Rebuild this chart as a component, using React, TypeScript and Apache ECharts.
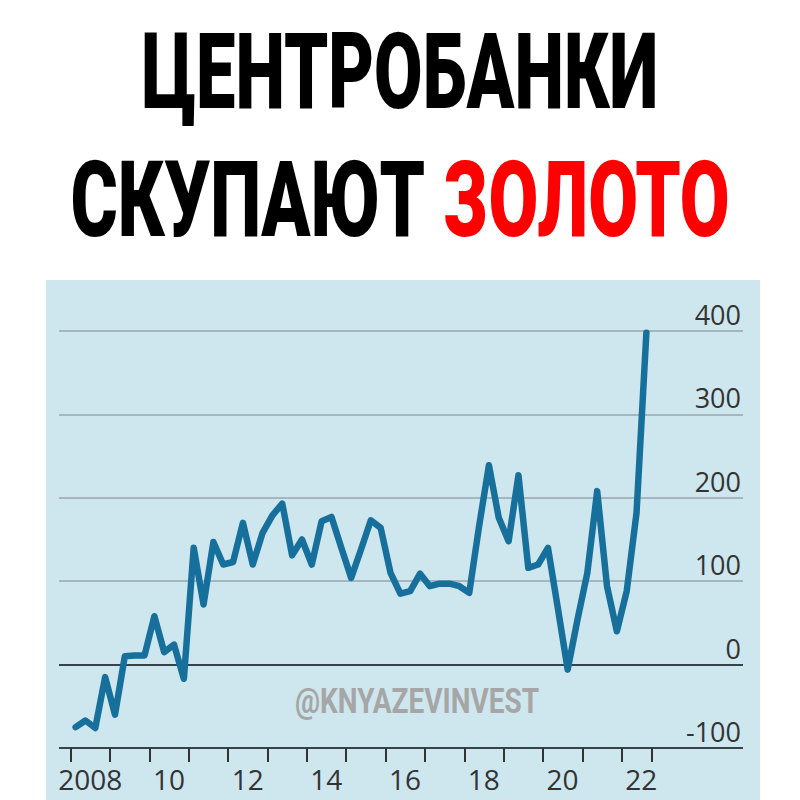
import React, { useEffect, useRef } from "react";
import * as echarts from "echarts";

// Central bank net gold purchases, tonnes, quarterly 2008 Q1 – 2022 Q3
const START_YEAR = 2008;
const goldPurchases = [
  -75, -67, -76, -15, // 2008
  -60, 10, 11, 11, // 2009
  58, 15, 24, -17, // 2010
  140, 72, 147, 120, // 2011
  123, 170, 120, 158, // 2012
  179, 193, 131, 150, // 2013
  120, 172, 177, 140, // 2014
  104, 138, 173, 164, // 2015
  110, 85, 88, 109, // 2016
  94, 97, 97, 94, // 2017
  86, 166, 239, 176, // 2018
  148, 227, 116, 120, // 2019
  140, 68, -6, 54, // 2020
  110, 208, 94, 40, // 2021
  88, 182, 398, // 2022
];
const yMin = -100;
const yMax = 400;
const yStep = 100;
const xMin = 2008;
const xMax = 2022.75;

const titleLine1 = "ЦЕНТРОБАНКИ";
const titleLine2a = "СКУПАЮТ";
const titleLine2b = "ЗОЛОТО";
const watermark = "@KNYAZEVINVEST";

export default function App() {
  const ref = useRef<HTMLDivElement>(null);
  useEffect(() => {
    const chart = echarts.init(ref.current!, null, { renderer: "svg" });
    const data = goldPurchases.map((v, i) => [START_YEAR + (i + 0.5) / 4, v]);
    const titleFont = { fontSize: 105, fontWeight: 900, fontFamily: "Roboto" };
    chart.setOption({
      animation: false,
      backgroundColor: "#ffffff",
      graphic: [
        {
          type: "rect",
          z: -10,
          silent: true,
          shape: { x: 46, y: 280, width: 714, height: 520 },
          style: { fill: "#cee6ee" },
        },
        {
          type: "text",
          x: 400,
          y: 72,
          scaleX: 0.67,
          z: 100,
          style: { text: titleLine1, ...titleFont, fill: "#000", align: "center", verticalAlign: "middle" },
        },
        {
          type: "text",
          x: 400,
          y: 200,
          scaleX: 0.688,
          z: 100,
          style: {
            text: `{a|${titleLine2a}} {b|${titleLine2b}}`,
            ...titleFont,
            fill: "#000",
            align: "center",
            verticalAlign: "middle",
            rich: {
              a: { ...titleFont, fill: "#000" },
              b: { ...titleFont, fill: "#ff0000" },
            },
          },
        },
        {
          type: "text",
          x: 417,
          y: 701,
          scaleX: 0.8,
          z: 100,
          style: {
            text: watermark,
            fontSize: 35,
            fontWeight: "bold",
            fontFamily: "Roboto",
            fill: "#a6a6a6",
            align: "center",
            verticalAlign: "middle",
          },
        },
      ],
      grid: [
        { left: 59, right: 57, top: 331, bottom: 52, containLabel: false },
        { left: 70.7, right: 148.7, top: 331, bottom: 52, containLabel: false },
      ],
      xAxis: [
        { type: "value", gridIndex: 0, min: 0, max: 1, show: false },
        {
          type: "value",
          gridIndex: 1,
          min: xMin,
          max: xMax,
          interval: 1,
          position: "bottom",
          axisLine: { show: false, onZero: false },
          splitLine: { show: false },
          axisTick: { show: true, length: 14, lineStyle: { color: "#333", width: 2 } },
          axisLabel: {
            show: true,
            margin: 20,
            fontSize: 28,
            lineHeight: 22,
            fontFamily: "Open Sans",
            color: "#333",
            padding: [0, 0, 0, 39],
            formatter: (v: number) => {
              if (!Number.isInteger(v) || v % 2 !== 0) return "";
              return v === 2008 ? "2008" : String(v).slice(2);
            },
          },
        },
      ],
      yAxis: [
        {
          type: "value",
          gridIndex: 0,
          position: "right",
          min: yMin,
          max: yMax,
          interval: yStep,
          axisLine: { show: false },
          axisTick: { show: false },
          axisLabel: {
            inside: true,
            margin: 2,
            fontSize: 27,
            fontFamily: "Open Sans",
            color: "#333",
            verticalAlign: "bottom",
            padding: [0, 0, 3, 0],
          },
          splitLine: {
            show: true,
            lineStyle: {
              width: 2,
              color: ["#36434a", "#36434a", "#a5b6be", "#a5b6be", "#a5b6be", "#a5b6be"],
            },
          },
        },
        { type: "value", gridIndex: 1, min: yMin, max: yMax, show: false },
      ],
      series: [
        {
          type: "line",
          xAxisIndex: 1,
          yAxisIndex: 1,
          data,
          symbol: "none",
          lineStyle: { color: "#17709c", width: 6.5, join: "round", cap: "round" },
          z: 5,
        },
      ],
    });
    return () => chart.dispose();
  }, []);
  return (
    <div
      ref={ref}
      style={{ position: "fixed", left: 0, top: 0, width: 800, height: 800, background: "#fff" }}
    />
  );
}
